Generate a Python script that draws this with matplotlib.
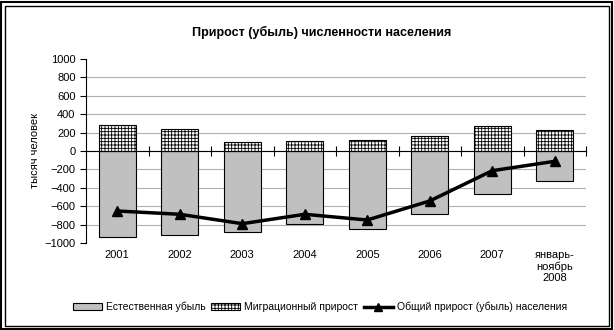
import matplotlib.pyplot as plt
import matplotlib.patches as mpatches
from matplotlib.lines import Line2D
import matplotlib.transforms as mtransforms

plt.rcParams['font.family'] = ['Liberation Sans', 'DejaVu Sans']
plt.rcParams['hatch.linewidth'] = 0.6

categories = ['2001', '2002', '2003', '2004', '2005', '2006', '2007', 'январь-\nноябрь\n2008']
natural = [-938, -917, -884, -797, -851, -685, -471, -330]
migration = [283, 235, 94, 109, 120, 159, 268, 228]
total = [-652, -688, -790, -688, -750, -543, -214, -112]

fig = plt.figure(figsize=(6.14, 3.30), dpi=100)
ax = fig.add_axes([86 / 614, 1 - 243 / 330, 500 / 614, 184 / 330])

x = list(range(len(categories)))
ax.bar(x, natural, width=0.59, color='#c0c0c0', edgecolor='black', linewidth=0.8, zorder=2)
ax.bar(x, migration, width=0.59, color='white', edgecolor='black', linewidth=0.8,
       hatch='+++++', zorder=2)
ax.plot(x, total, color='black', linewidth=2.5, marker='^', markersize=7, zorder=3)

ax.set_xlim(-0.5, len(categories) - 0.5)
ax.set_ylim(-1000, 1000)
ax.set_yticks(range(-1000, 1001, 200))
ax.yaxis.grid(True, color='#b0b0b0', linewidth=0.8, zorder=0)
ax.set_axisbelow(True)
ax.tick_params(axis='y', labelsize=8, length=4, width=0.8, direction='out')
# no gridlines at the outer limits
gl = ax.yaxis.get_gridlines()
gl[0].set_visible(False)
gl[-1].set_visible(False)

for s in ['top', 'right']:
    ax.spines[s].set_visible(False)
ax.spines['left'].set_linewidth(0.8)
ax.spines['bottom'].set_position(('data', 0))
ax.spines['bottom'].set_linewidth(0.8)
ax.spines['bottom'].set_zorder(4)
ax.set_xticks([i + 0.5 for i in range(len(categories))])
ax.tick_params(axis='x', direction='inout', length=7, width=0.8, labelbottom=False)

trans = mtransforms.blended_transform_factory(ax.transData, ax.transAxes)
for i, c in enumerate(categories):
    ax.text(i, -0.04, c, transform=trans, ha='center', va='top', fontsize=8, linespacing=1.15)

ax.set_ylabel('тысяч человек', fontsize=8, labelpad=3)

fig.text(322 / 614, 1 - 32 / 330, 'Прирост (убыль) численности населения', ha='center',
         va='center', fontsize=9, fontweight='bold')

handles = [
    mpatches.Patch(facecolor='#c0c0c0', edgecolor='black', linewidth=0.8),
    mpatches.Patch(facecolor='white', edgecolor='black', linewidth=0.8, hatch='+++++'),
    Line2D([], [], color='black', linewidth=2.5, marker='^', markersize=6),
]
labels = ['Естественная убыль', 'Миграционный прирост', 'Общий прирост (убыль) населения']
fig.legend(handles, labels, loc='center', bbox_to_anchor=(320 / 614, 1 - 307 / 330), ncol=3,
           frameon=False, fontsize=7.5, handlelength=2.8, handletextpad=0.4, columnspacing=0.5)

# double frame round the picture
fig.patches.append(mpatches.Rectangle((1 / 614, 1 / 330), 611 / 614, 327 / 330, fill=False,
                                      edgecolor='black', linewidth=1.5, transform=fig.transFigure))
fig.patches.append(mpatches.Rectangle((4.5 / 614, 4.5 / 330), 604 / 614, 320 / 330, fill=False,
                                      edgecolor='black', linewidth=1.0, transform=fig.transFigure))

fig.savefig('out.png', dpi=100)
